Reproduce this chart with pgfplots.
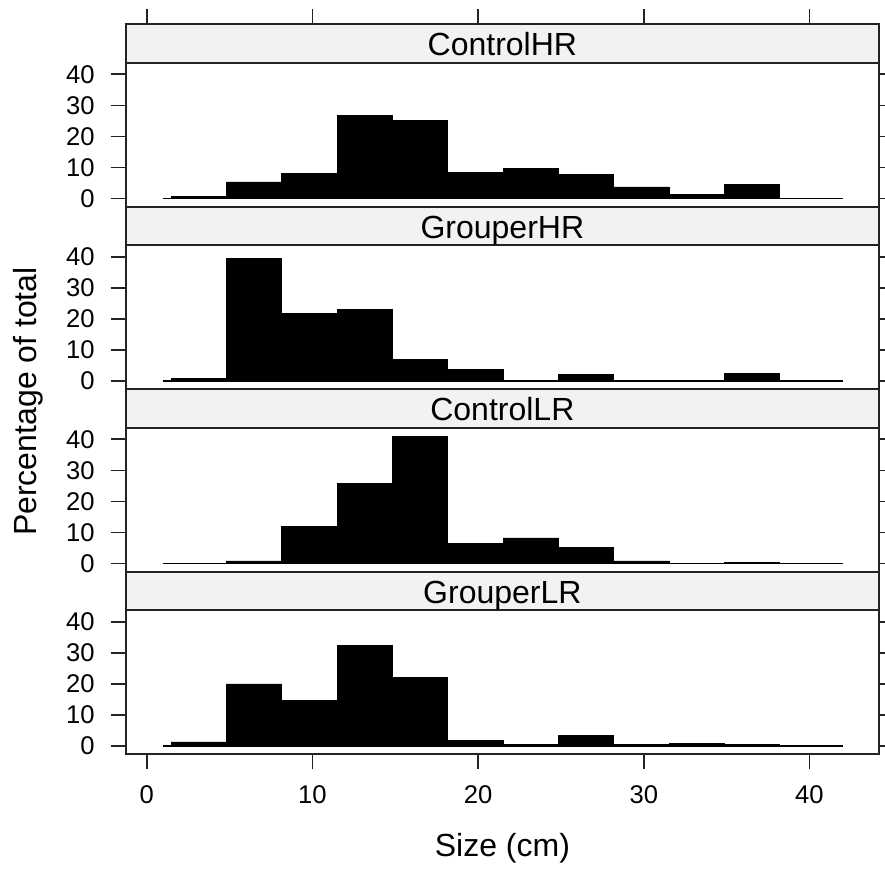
\documentclass[border=0pt]{standalone}
\usepackage{fontspec}
\setmainfont{Liberation Sans}
\usepackage{pgfplots}
\pgfplotsset{compat=1.18}
\definecolor{stripbg}{RGB}{242,242,242}
\definecolor{frame}{RGB}{35,35,35}
\pgfplotsset{
  panel/.style={scale only axis, width=753.3pt, height=144pt, anchor=south west,
    xmin=-1.27, xmax=44.2, ymin=-2.7, ymax=43.7,
    ytick={0,10,20,30,40}, ytick pos=both, yticklabel pos=left,
    xtick=\empty, tick align=outside, major tick length=15pt,
    tick style={line width=1.6pt, color=frame},
    axis line style={line width=1.7pt, color=frame},
    /pgf/number format/assume math mode=true,
    ticklabel style={font=\fontsize{25.6}{30}\selectfont},
    yticklabel style={inner sep=0pt, xshift=-16pt},
    xticklabel style={inner sep=0pt, yshift=-16pt},
  },
  strip/.style={scale only axis, width=753.3pt, height=38.5pt, anchor=south west,
    xmin=-1.27, xmax=44.2, ymin=0, ymax=1, xtick=\empty, ytick=\empty,
    tick align=outside, major tick length=15pt,
    tick style={line width=1.6pt, color=frame},
    axis line style={line width=1.7pt, color=frame},
    axis background/.style={fill=stripbg}, clip=false},
  bars/.style={ybar, bar width=3.34, fill=black, draw=black, line width=0.6pt},
  base/.style={black, line width=1.8pt},
}
\newcommand{\striplabel}[1]{\node[anchor=base, inner sep=0pt, font=\fontsize{32}{38}\selectfont] at (rel axis cs:0.5,0.18) {#1};}
\begin{document}
\begin{tikzpicture}
\useasboundingbox (0,0) rectangle (885pt,870pt);

% ---------- Panel 1: ControlHR ----------
\begin{axis}[panel, at={(125.7pt,663.2pt)}]
\addplot[bars] coordinates {(3.14,0.6) (6.48,5.3) (9.82,8.0) (13.16,26.8) (16.50,25.2) (19.84,8.4) (23.18,9.7) (26.52,7.8) (29.86,3.7) (33.20,1.2) (36.54,4.6) (39.88,0)};
\addplot[base] coordinates {(0.96,0) (42.03,0)};
\end{axis}
\begin{axis}[strip, at={(125.7pt,807.2pt)}, xtick={0,10,20,30,40}, xtick pos=right, xticklabels={}]
\striplabel{ControlHR}
\end{axis}

% ---------- Panel 2: GrouperHR ----------
\begin{axis}[panel, at={(125.7pt,480.7pt)}]
\addplot[bars] coordinates {(3.14,0.8) (6.48,39.6) (9.82,21.8) (13.16,23.0) (16.50,7.0) (19.84,3.6) (23.18,0) (26.52,2.0) (29.86,0) (33.20,0) (36.54,2.3) (39.88,0)};
\addplot[base] coordinates {(0.96,0) (42.03,0)};
\end{axis}
\begin{axis}[strip, at={(125.7pt,624.7pt)}]
\striplabel{GrouperHR}
\end{axis}

% ---------- Panel 3: ControlLR ----------
\begin{axis}[panel, at={(125.7pt,298.2pt)}]
\addplot[bars] coordinates {(3.14,0) (6.48,0.8) (9.82,11.8) (13.16,25.8) (16.50,40.9) (19.84,6.5) (23.18,8.2) (26.52,5.1) (29.86,0.8) (33.20,0) (36.54,0.2) (39.88,0)};
\addplot[base] coordinates {(0.96,0) (42.03,0)};
\end{axis}
\begin{axis}[strip, at={(125.7pt,442.2pt)}]
\striplabel{ControlLR}
\end{axis}

% ---------- Panel 4: GrouperLR ----------
\begin{axis}[panel, at={(125.7pt,115.7pt)}, xtick={0,10,20,30,40}, xtick pos=left]
\addplot[bars] coordinates {(3.14,1.3) (6.48,20.0) (9.82,14.6) (13.16,32.4) (16.50,22.1) (19.84,1.8) (23.18,0.6) (26.52,3.3) (29.86,0.6) (33.20,0.9) (36.54,0.6) (39.88,0)};
\addplot[base] coordinates {(0.96,0) (42.03,0)};
\end{axis}
\begin{axis}[strip, at={(125.7pt,259.7pt)}]
\striplabel{GrouperLR}
\end{axis}

% ---------- Axis titles ----------
\node[anchor=base, inner sep=0pt, font=\fontsize{32}{38}\selectfont] at (502.4pt,14pt) {Size (cm)};
\node[anchor=base, rotate=90, inner sep=0pt, font=\fontsize{32}{38}\selectfont] at (36pt,468.5pt) {Percentage of total};
\end{tikzpicture}
\end{document}
